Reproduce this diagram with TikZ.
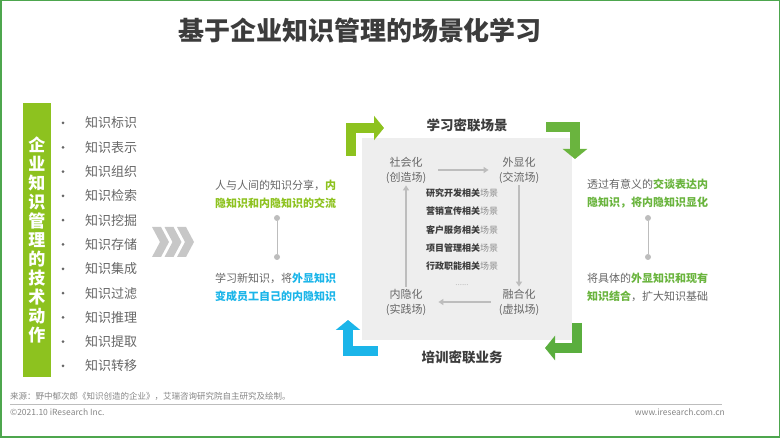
\documentclass[tikz,border=0pt]{standalone}
\usepackage{fontspec}
\setmainfont{Noto Sans CJK SC}
\usepackage{xcolor}
\usepackage{tikz}
\usetikzlibrary{arrows.meta, positioning}
\definecolor{frame}{HTML}{4DA64E}
\definecolor{lime}{HTML}{8DC21F}
\definecolor{leaf}{HTML}{6AB43E}
\definecolor{leafdark}{HTML}{5AAE3E}
\definecolor{sky}{HTML}{1BB5E9}
\definecolor{ink}{HTML}{3C3C3C}
\definecolor{body}{HTML}{666666}
\definecolor{soft}{HTML}{BDBDBD}
\definecolor{panel}{HTML}{EEEEEE}

\begin{document}
\begin{tikzpicture}[
    x=1pt, y=-1pt,
    >={Stealth[length=5pt]},
    item/.style={anchor=west, inner sep=0pt, font=\fontsize{13}{13}\selectfont, text=body},
    bullet/.style={circle, fill=body, inner sep=0pt, minimum size=3pt},
    note/.style={anchor=west, align=left, inner sep=0pt, font=\fontsize{11}{18}\selectfont, text=body},
    dot/.style={circle, fill=soft, inner sep=0pt, minimum size=6pt},
    phase/.style={align=center, inner sep=2pt, font=\fontsize{11}{15}\selectfont, text=body},
    scene/.style={inner sep=0pt, font=\fontsize{9}{9}\selectfont\bfseries, text=ink},
    flow/.style={-{Triangle[length=5pt,width=6pt]}, draw=soft, line width=1.6pt},
    turn/.style={line width=10pt, -{Triangle[length=10pt,width=24pt]}, draw=#1},
    foot/.style={inner sep=0pt, font=\fontsize{8.5}{8.5}\selectfont, text=body!80},
]
    \useasboundingbox (0,0) rectangle (780,438);
    \draw[frame, line width=1.5pt] (0.75,0.75) rectangle (779.25,437.25);

    % Title
    \node[font=\fontsize{26}{26}\selectfont\bfseries, text=ink] (title) at (360,31) {基于企业知识管理的场景化学习};

    % Left bar and list
    \node[fill=lime, minimum width=27.5pt, minimum height=274pt, inner sep=0pt,
          text=white, align=center, font=\fontsize{17}{19}\selectfont\bfseries] (bar) at (36.8,240)
        {企\\业\\知\\识\\管\\理\\的\\技\\术\\动\\作};
    \foreach \kw [count=\i] in {知识标识,知识表示,知识组织,知识检索,知识挖掘,知识存储,知识集成,知识过滤,知识推理,知识提取,知识转移} {
        \node[bullet] (b\i) at (63, 98.7+24.3*\i) {};
        \node[item] (k\i) at (85, 98.7+24.3*\i) {\kw};
    }
    \foreach \dx in {0,12.5,25}
        \fill[soft!85] (152+\dx,227) -- ++(9,0) -- ++(8,15) -- ++(-8,15) -- ++(-9,0) -- ++(8,-15) -- cycle;

    % Left notes
    \node[note] (shareL) at (215,194) {人与人间的知识分享，\textcolor{lime}{\bfseries 内}\\\textcolor{lime}{\bfseries 隐知识和内隐知识的交流}};
    \node[note] (learnL) at (215,287.5) {学习新知识，将\textcolor{sky}{\bfseries 外显知识}\\\textcolor{sky}{\bfseries 变成员工自己的内隐知识}};
    \node[dot] (ldA) at (277,218) {};
    \node[dot] (ldB) at (277,257) {};
    \draw[soft, line width=1pt] (ldA) -- (ldB);

    % Centre panel
    \node[fill=panel, minimum width=210pt, minimum height=202pt, inner sep=0pt] (panel) at (467,239) {};
    \node[phase] (soc) at (406,170) {社会化\\(创造场)};
    \node[phase] (ext) at (519,170) {外显化\\(交流场)};
    \node[phase] (fus) at (519,302) {融合化\\(虚拟场)};
    \node[phase] (int) at (406,302) {内隐化\\(实践场)};
    \draw[flow, shorten <=10pt, shorten >=8pt] (soc) -- (ext);
    \draw[flow] (ext) -- (fus);
    \draw[flow, shorten <=6pt, shorten >=10pt] (fus) -- (int);
    \draw[flow] (int) -- (soc);
    \foreach \sc [count=\i] in {研究开发,营销宣传,客户服务,项目管理,行政职能}
        \node[scene] (sc\i) at (462, 175+18.2*\i) {\sc{}相关{\mdseries\color{body!75}场景}};
    \node[font=\fontsize{8}{8}\selectfont, text=soft] (more) at (462,285) {......};

    % Corner arrows
    \node[font=\fontsize{13.5}{13.5}\selectfont\bfseries, text=ink] (topcap) at (467,125) {学习密联场景};
    \node[font=\fontsize{13.5}{13.5}\selectfont\bfseries, text=ink] (botcap) at (462,357) {培训密联业务};
    \draw[turn=lime] (351,156) -- (351,128) -- (384,128);
    \draw[turn=leaf] (546,127) -- (575,127) -- (575,159);
    \draw[turn=sky] (378,351) -- (348,351) -- (348,320);
    \draw[turn=leafdark] (577,323) -- (577,348) -- (545,348);

    % Right notes
    \node[note] (talkR) at (587,194) {透过有意义的\textcolor{leaf}{\bfseries 交谈表达内}\\\textcolor{leaf}{\bfseries 隐知识，将内隐知识显化}};
    \node[note] (joinR) at (587,287.5) {将具体的\textcolor{leaf}{\bfseries 外显知识和现有}\\\textcolor{leaf}{\bfseries 知识结合}，扩大知识基础};
    \node[dot] (rdA) at (648,218) {};
    \node[dot] (rdB) at (648,257) {};
    \draw[soft, line width=1pt] (rdA) -- (rdB);

    % Footer
    \node[foot, anchor=west] (src) at (10,396) {来源：野中郁次郎《知识创造的企业》，艾瑞咨询研究院自主研究及绘制。};
    \draw[soft, line width=0.8pt] (10,404) -- (722,404);
    \node[foot, anchor=west] (copy) at (10,412) {©2021.10 iResearch Inc.};
    \node[foot, anchor=east] (site) at (725,412) {www.iresearch.com.cn};
\end{tikzpicture}
\end{document}
